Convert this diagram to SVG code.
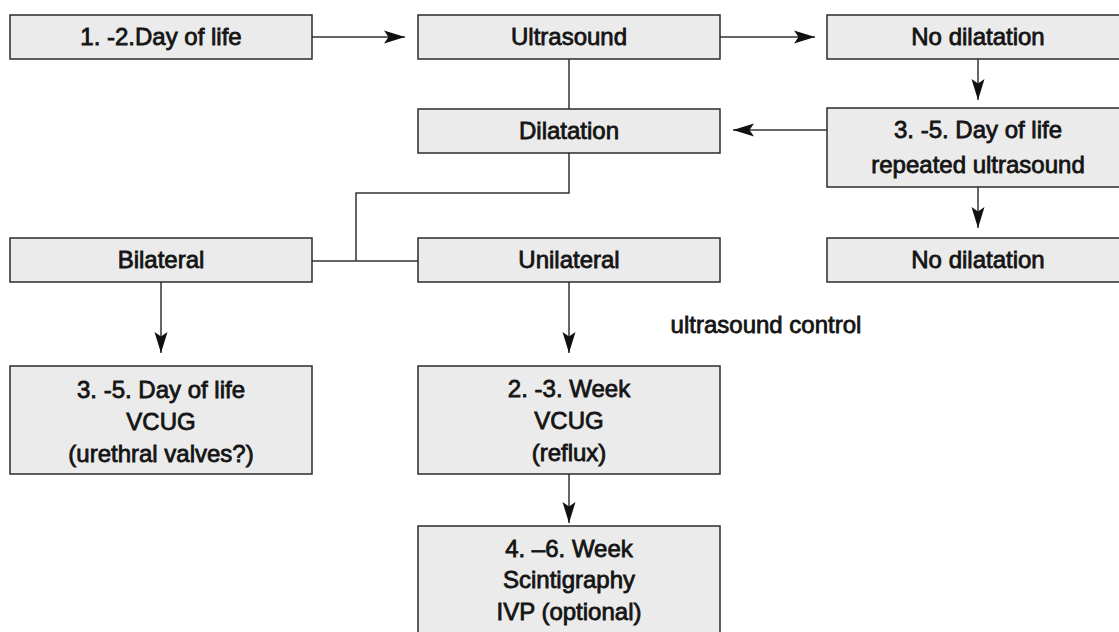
<svg xmlns="http://www.w3.org/2000/svg" width="1119" height="632" viewBox="0 0 1119 632">
<style>
.box{fill:#ebebeb;stroke:#2b2b2b;stroke-width:1.5}
.t{font-family:"Liberation Sans",Arial,sans-serif;font-weight:normal;font-size:24px;fill:#141414;stroke:#141414;stroke-width:0.8;text-anchor:middle}
.ln{fill:none;stroke:#333;stroke-width:1.5}
</style>
<defs>
<marker id="ah" markerUnits="userSpaceOnUse" markerWidth="26" markerHeight="16" refX="21" refY="7" orient="auto">
<path d="M0,0.5 L21,7 L0,13.5 L4.5,7 Z" fill="#111"/>
</marker>
</defs>
<rect width="1119" height="632" fill="#fff"/>
<g id="connectors">
<line class="ln" x1="312" y1="37" x2="405" y2="37" marker-end="url(#ah)"/>
<line class="ln" x1="720" y1="37" x2="815" y2="37" marker-end="url(#ah)"/>
<line class="ln" x1="978" y1="59" x2="978" y2="100" marker-end="url(#ah)"/>
<line class="ln" x1="827" y1="130" x2="733" y2="130" marker-end="url(#ah)"/>
<line class="ln" x1="978" y1="187" x2="978" y2="228" marker-end="url(#ah)"/>
<line class="ln" x1="161" y1="282" x2="161" y2="353" marker-end="url(#ah)"/>
<line class="ln" x1="569" y1="282" x2="569" y2="353" marker-end="url(#ah)"/>
<line class="ln" x1="569" y1="474" x2="569" y2="523" marker-end="url(#ah)"/>
<line class="ln" x1="569" y1="59" x2="569" y2="109"/>
<polyline class="ln" points="569,153 569,193 356,193 356,261"/>
<line class="ln" x1="312" y1="261" x2="418" y2="261"/>
</g>
<g id="n1"><rect class="box" x="10" y="15" width="302" height="44"/><text class="t" x="161" y="45">1. -2.Day of life</text></g>
<g id="n2"><rect class="box" x="418" y="15" width="302" height="44"/><text class="t" x="569" y="45">Ultrasound</text></g>
<g id="n3"><rect class="box" x="827" y="15" width="300" height="44"/><text class="t" x="978" y="45">No dilatation</text></g>
<g id="n4"><rect class="box" x="418" y="109" width="302" height="44"/><text class="t" x="569" y="139">Dilatation</text></g>
<g id="n5"><rect class="box" x="827" y="108" width="300" height="79"/><text class="t" x="978" y="138">3. -5. Day of life</text><text class="t" x="978" y="173">repeated ultrasound</text></g>
<g id="n6"><rect class="box" x="10" y="238" width="302" height="44"/><text class="t" x="161" y="268">Bilateral</text></g>
<g id="n7"><rect class="box" x="418" y="238" width="302" height="44"/><text class="t" x="569" y="268">Unilateral</text></g>
<g id="n8"><rect class="box" x="827" y="238" width="300" height="44"/><text class="t" x="978" y="268">No dilatation</text></g>
<g id="n9"><rect class="box" x="10" y="366" width="302" height="108"/><text class="t" x="161" y="398">3. -5. Day of life</text><text class="t" x="161" y="430">VCUG</text><text class="t" x="161" y="462">(urethral valves?)</text></g>
<g id="n10"><rect class="box" x="418" y="366" width="302" height="108"/><text class="t" x="569" y="397">2. -3. Week</text><text class="t" x="569" y="429">VCUG</text><text class="t" x="569" y="461">(reflux)</text></g>
<g id="n11"><rect class="box" x="418" y="526" width="302" height="120"/><text class="t" x="569" y="557">4. –6. Week</text><text class="t" x="569" y="588">Scintigraphy</text><text class="t" x="569" y="620">IVP (optional)</text></g>
<g id="label"><text class="t" x="766" y="333">ultrasound control</text></g>
</svg>
